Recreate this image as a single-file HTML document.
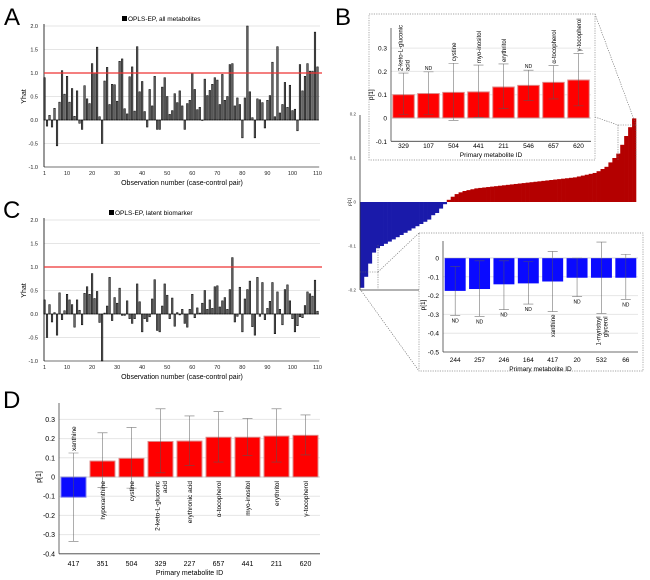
<!DOCTYPE html>
<html><head><meta charset="utf-8">
<style>
html,body{margin:0;padding:0;background:#fff;}
svg{display:block;font-family:"Liberation Sans",sans-serif;}
</style></head>
<body>
<svg id="fig" width="650" height="580" viewBox="0 0 650 580"></svg>
<script>
// ---- Panel A data ----
const aValues=[0.9,-0.13,0.1,-0.15,0.25,-0.55,0.38,1.05,0.55,0.93,0.38,0.67,0.08,0.62,-0.07,-0.2,0.73,0.45,0.35,1.2,1.0,1.55,0.07,-0.5,0.83,1.12,0.33,0.76,0.75,0.4,1.25,1.3,0.24,0.13,0.92,1.13,0.19,1.56,0.6,0.82,0.18,-0.15,0.65,0.3,0.93,-0.2,-0.2,0.7,0.9,0.5,0.12,0.2,0.56,0.37,0.62,0.3,-0.2,0.35,0.42,1.0,0.65,0.22,0.27,0.0,0.87,0.52,0.63,0.76,0.9,0.85,0.33,0.97,0.42,0.5,1.18,1.2,0.3,0.47,0.33,-0.38,0.47,2.0,0.6,0.05,-0.38,0.45,0.43,0.37,-0.17,0.42,0.52,1.23,0.07,1.56,0.15,0.33,0.8,0.27,0.74,0.2,0.23,-0.23,1.18,0.62,0.93,1.2,1.04,1.04,1.87,1.13];
// ---- Panel C data ----
const cValues=[0.3,-0.5,0.2,-0.17,0.03,-0.45,0.45,-0.12,0.07,0.42,0.3,0.2,-0.28,0.3,0.08,-0.23,0.44,0.58,0.42,0.86,0.33,0.48,-0.18,-1.0,0.02,0.17,0.78,-0.14,0.35,0.23,0.55,-0.03,-0.03,0.28,-0.1,-0.2,-0.1,0.64,0.26,-0.38,-0.1,-0.16,-0.06,0.32,0.73,-0.35,-0.38,0.17,0.64,0.4,-0.1,0.34,-0.26,0.03,-0.02,0.1,-0.2,-0.28,0.1,0.42,-0.08,0.13,0.02,0.23,0.5,0.1,0.3,0.12,0.58,0.6,0.15,0.28,0.35,0.1,0.52,1.2,-0.17,-0.05,0.57,-0.38,0.32,0.52,0.7,-0.27,-0.45,0.78,-0.05,0.67,-0.12,0.12,0.27,0.67,-0.42,0.47,0.1,-0.23,0.52,0.62,0.28,-0.1,-0.38,-0.25,-0.06,-0.08,0.18,0.47,0.43,0.38,0.72,0.06];
const yhatTicks=[-1.0,-0.5,0.0,0.5,1.0,1.5,2.0];
const xObsTicks=[1,10,20,30,40,50,60,70,80,90,100,110];
// ---- Panel B main waterfall ----
const bSorted=[-0.195,-0.17,-0.14,-0.115,-0.105,-0.1,-0.095,-0.09,-0.085,-0.08,-0.075,-0.07,-0.065,-0.06,-0.055,-0.05,-0.045,-0.04,-0.03,-0.025,-0.015,-0.005,
0.005,0.012,0.018,0.022,0.025,0.027,0.029,0.031,0.032,0.033,0.034,0.035,0.036,0.037,0.038,0.039,0.04,0.041,0.042,0.043,0.044,0.045,0.046,0.047,0.048,0.049,0.05,0.051,0.052,0.053,0.054,0.055,0.056,0.058,0.06,0.062,0.064,0.066,0.07,0.075,0.08,0.09,0.1,0.11,0.13,0.15,0.17,0.19];
const bMainTicks=[-0.2,-0.1,0,0.1,0.2];
// ---- Panel B top inset ----
const bTopIds=["329","107","504","441","211","546","657","620"];
const bTopVals=[0.1,0.105,0.11,0.112,0.133,0.14,0.153,0.163];
const bTopLo=[0.015,0.015,-0.01,0.003,0.04,0.075,0.082,0.052];
const bTopHi=[0.193,0.198,0.235,0.227,0.232,0.205,0.225,0.277];
const bTopLabels=[["2-keto-L-gluconic","acid"],["ND"],["cystine"],["myo-inositol"],["erythritol"],["ND"],["α-tocopherol"],["γ-tocopherol"]];
const bTopTicks=[-0.1,0,0.1,0.2,0.3];
// ---- Panel B bottom inset ----
const bBotIds=["244","257","246","164","417","20","532","66"];
const bBotVals=[-0.175,-0.165,-0.14,-0.135,-0.125,-0.105,-0.105,-0.105];
const bBotLo=[-0.305,-0.31,-0.275,-0.245,-0.285,-0.205,-0.295,-0.22];
const bBotHi=[-0.045,-0.015,-0.015,-0.02,0.035,0.0,0.085,0.02];
const bBotLabels=[["ND"],["ND"],["ND"],["ND"],["xanthine"],["ND"],["1-myristoyl","glycerol"],["ND"]];
const bBotTicks=[-0.5,-0.4,-0.3,-0.2,-0.1,0];
// ---- Panel D ----
const dIds=["417","351","504","329","227","657","441","211","620"];
const dVals=[-0.105,0.083,0.097,0.185,0.187,0.207,0.207,0.213,0.217];
const dLo=[-0.335,-0.055,-0.058,0.022,0.06,0.078,0.113,0.078,0.115];
const dHi=[0.125,0.23,0.258,0.355,0.318,0.34,0.305,0.355,0.323];
const dLabels=[["xanthine"],["hypoxanthine"],["cystine"],["2-keto-L-gluconic","acid"],["erythronic acid"],["α-tocopherol"],["myo-inositol"],["erythritol"],["γ-tocopherol"]];
const dTicks=[-0.4,-0.3,-0.2,-0.1,0,0.1,0.2,0.3];

const svg=document.getElementById('fig');
const NS='http://www.w3.org/2000/svg';
function mk(tag,attrs,parent){const e=document.createElementNS(NS,tag);for(const k in attrs)e.setAttribute(k,attrs[k]);(parent||svg).appendChild(e);return e;}
function txt(s,attrs,parent){const e=mk('text',attrs,parent);e.textContent=s;return e;}
function lin(d0,d1,r0,r1){return v=>r0+(v-d0)/(d1-d0)*(r1-r0);}

// Panel letters
[["A",4,25],["B",335,25],["C",3,218],["D",3,408]].forEach(p=>{
  const t=txt(p[0],{x:p[1],y:p[2],'font-size':24});
  
  
});

function yhatPanel(values,top,id,legend){
  const g=mk('g',{});
  
  
  const y=lin(0,2,top+94,top);const x=lin(1,110,44.5,317.5);
  yhatTicks.forEach(t=>{
    if(t!==0){const gl=mk('line',{x1:44,x2:320,y1:y(t),y2:y(t),stroke:'#ddd','stroke-width':0.8},g);
    }
    const tl=txt(t.toFixed(1),{x:38,y:y(t)+2,'font-size':5.5,'text-anchor':'end',fill:'#222'},g);
    
  });
  values.forEach((v,i)=>{
    const y0=y(0),yv=y(v);
    const b=mk('rect',{x:x(i+1)-0.8,y:Math.min(y0,yv),width:1.6,height:Math.max(0.5,Math.abs(yv-y0)),fill:'#666',stroke:'#000','stroke-width':0.5},g);
    
  });
  const ax=mk('line',{x1:44,x2:44,y1:top-2,y2:y(-1),stroke:'#000','stroke-width':0.8},g);
  
  const zx=mk('line',{x1:44,x2:319,y1:y(0),y2:y(0),stroke:'#000','stroke-width':0.6},g);
  
  const bx=mk('line',{x1:44,x2:319,y1:y(-1),y2:y(-1),stroke:'#000','stroke-width':0.6},g);
  
  const rl=mk('line',{x1:44,x2:322,y1:y(1),y2:y(1),stroke:'#e33','stroke-width':1.2},g);
  
  xObsTicks.forEach(t=>{
    const tl=txt(String(t),{x:x(t),y:y(-1)+8,'font-size':5.5,'text-anchor':'middle',fill:'#222'},g);
    
  });
  const yt=txt('Yhat',{x:0,y:0,'font-size':7,transform:`translate(26,${y(0.5)}) rotate(-90)`,'text-anchor':'middle'},g);
  
  const xt=txt('Observation number (case-control pair)',{x:182,y:y(-1)+18,'font-size':7,'text-anchor':'middle'},g);
  
  const lm=mk('rect',{x:legend[0],y:top-10,width:5,height:5,fill:'#000'},g);
  
  const lt=txt(legend[1],{x:legend[0]+6,y:top-5,'font-size':6.5},g);
  
}
yhatPanel(aValues,26,'a',[122,'OPLS-EP, all metabolites']);
yhatPanel(cValues,220,'c',[109,'OPLS-EP, latent biomarker']);

// Panel B main
(function(){
  const g=mk('g',{});
  
  
  const y=lin(0,0.1,202,158);
  const w=276/bSorted.length;
  bSorted.forEach((v,i)=>{
    const y0=y(0),yv=y(v);
    const b=mk('rect',{x:360+i*w,y:Math.min(y0,yv),width:w+0.3,height:Math.abs(yv-y0),fill:v<0?'#1a1aaa':'#b40000'},g);
    
  });
  const ax=mk('line',{x1:360,x2:360,y1:115,y2:y(-0.2),stroke:'#333','stroke-width':0.8},g);
  
  const bx=mk('line',{x1:360,x2:420,y1:y(-0.2),y2:y(-0.2),stroke:'#333','stroke-width':0.8},g);
  
  bMainTicks.forEach(t=>{
    const tl=txt(String(t),{x:356,y:y(t)+1.5,'font-size':4.5,'text-anchor':'end',fill:'#333'},g);
    
  });
  const yt=txt('p[1]',{x:0,y:0,'font-size':4.5,transform:`translate(351,${y(0)}) rotate(-90)`,'text-anchor':'middle'},g);
  
  // dotted zoom boxes & connectors
  const dots=[[618,125,636,125],[636,125,636,160],[618,125,618,160],[595,117,618,125],[595,14,636,125],
              [360,272,378,272],[378,272,378,289],[378,245,378,272],[360,289,419,371],[378,272,419,233]];
  dots.forEach(d=>{const l=mk('line',{x1:d[0],y1:d[1],x2:d[2],y2:d[3],stroke:'#666','stroke-width':0.6,'stroke-dasharray':'1.2,1.2'},g);
    });
})();

function barInset(cfg){
  const g=mk('g',{});
  
  
  if(cfg.box){const bx=mk('rect',{x:cfg.box[0],y:cfg.box[1],width:cfg.box[2],height:cfg.box[3],fill:'#fff',stroke:'#888','stroke-width':0.7,'stroke-dasharray':'1.2,1.2'},g);
    }
  const y=lin(0,0.1,cfg.zeroY,cfg.zeroY-cfg.px);
  const tmin=cfg.ticks[0],tmax=cfg.ticks[cfg.ticks.length-1];
  cfg.ticks.forEach(t=>{
    if(t!==0){const gl=mk('line',{x1:cfg.ax,x2:cfg.right,y1:y(t),y2:y(t),stroke:'#e6e6e6','stroke-width':1},g);
    }
    const tl=txt(String(t),{x:cfg.ax-4,y:y(t)+2.5,'font-size':cfg.fs,'text-anchor':'end'},g);
    
  });
  const pitch=(cfg.right-cfg.ax)/cfg.vals.length;const bw=pitch*0.86;
  cfg.vals.forEach((v,i)=>{
    const cx=cfg.ax+pitch*(i+0.5);const y0=y(0),yv=y(v);
    const b=mk('rect',{x:cx-bw/2,y:Math.min(y0,yv),width:bw,height:Math.abs(yv-y0),fill:v<0?'#0a0aff':'#ff0000',stroke:cfg.outline?(v<0?'#7777ee':'#d88'):'none','stroke-width':1},g);
    
    const yl=y(cfg.lo[i]),yh=y(cfg.hi[i]);
    const eb=mk('path',{d:`M${cx},${yl}V${yh}M${cx-5},${yl}H${cx+5}M${cx-5},${yh}H${cx+5}`,stroke:'#555','stroke-width':0.6,fill:'none',opacity:0.8},g);
    
    const il=txt(cfg.ids[i],{x:cx,y:cfg.idY,'font-size':cfg.fs,'text-anchor':'middle'},g);
    
    const lab=cfg.labels[i];
    if(lab[0]==='ND'){
      const ny=(v<0||cfg.below)?yl+7:yh-2;
      const nd=txt('ND',{x:cx,y:ny,'font-size':cfg.fs-1.5,'text-anchor':'middle'},g);
      
    } else {
      const up=cfg.labelUp(i,v);
      const ay=up?yh-2:(cfg.labelBelowZero?y(0)+4:yl+3);
      lab.forEach((s,k)=>{
        const off=(k-(lab.length-1)/2)*(cfg.fs+0.5);
        const t=txt(s,{x:0,y:0,'font-size':cfg.fs-0.5,'text-anchor':up?'start':'end',transform:`translate(${cx+off+2.5},${ay}) rotate(-90)`},g);
        
      });
    }
  });
  const ax=mk('line',{x1:cfg.ax,x2:cfg.ax,y1:cfg.axTop,y2:y(tmin),stroke:'#444','stroke-width':0.8},g);
  
  const bx=mk('line',{x1:cfg.ax,x2:cfg.right,y1:y(tmin),y2:y(tmin),stroke:'#444','stroke-width':0.8},g);
  
  const zl=mk('line',{x1:cfg.ax,x2:cfg.right,y1:y(0),y2:y(0),stroke:'#aaa','stroke-width':0.6},g);
  
  const yt=txt('p[1]',{x:0,y:0,'font-size':cfg.fs,transform:`translate(${cfg.ax-18},${y(cfg.ytPos)}) rotate(-90)`,'text-anchor':'middle'},g);
  
  const xt=txt('Primary metabolite ID',{x:(cfg.ax+cfg.right)/2,y:cfg.idY+9,'font-size':cfg.fs,'text-anchor':'middle'},g);
  
}
barInset({name:'panel-b-top-inset',box:[369,14,226,146],ax:391,right:591,zeroY:118,px:23.3,ticks:bTopTicks,fs:6.5,
  vals:bTopVals,lo:bTopLo,hi:bTopHi,ids:bTopIds,labels:bTopLabels,idY:148,axTop:28,ytPos:0.1,outline:true,labelUp:()=>true});
barInset({name:'panel-b-bottom-inset',box:[419,233,224,138],ax:443,right:638,zeroY:258,px:18.8,ticks:bBotTicks,fs:6.5,below:true,
  vals:bBotVals,lo:bBotLo,hi:bBotHi,ids:bBotIds,labels:bBotLabels,idY:362,axTop:241,ytPos:-0.25,outline:false,labelUp:()=>false});
barInset({name:'panel-d',box:null,ax:59,right:320,zeroY:477,px:19.2,ticks:dTicks,fs:7,
  vals:dVals,lo:dLo,hi:dHi,ids:dIds,labels:dLabels,idY:566,axTop:403,ytPos:0,outline:true,labelBelowZero:true,labelUp:(i,v)=>v<0});
</script>
</body></html>
